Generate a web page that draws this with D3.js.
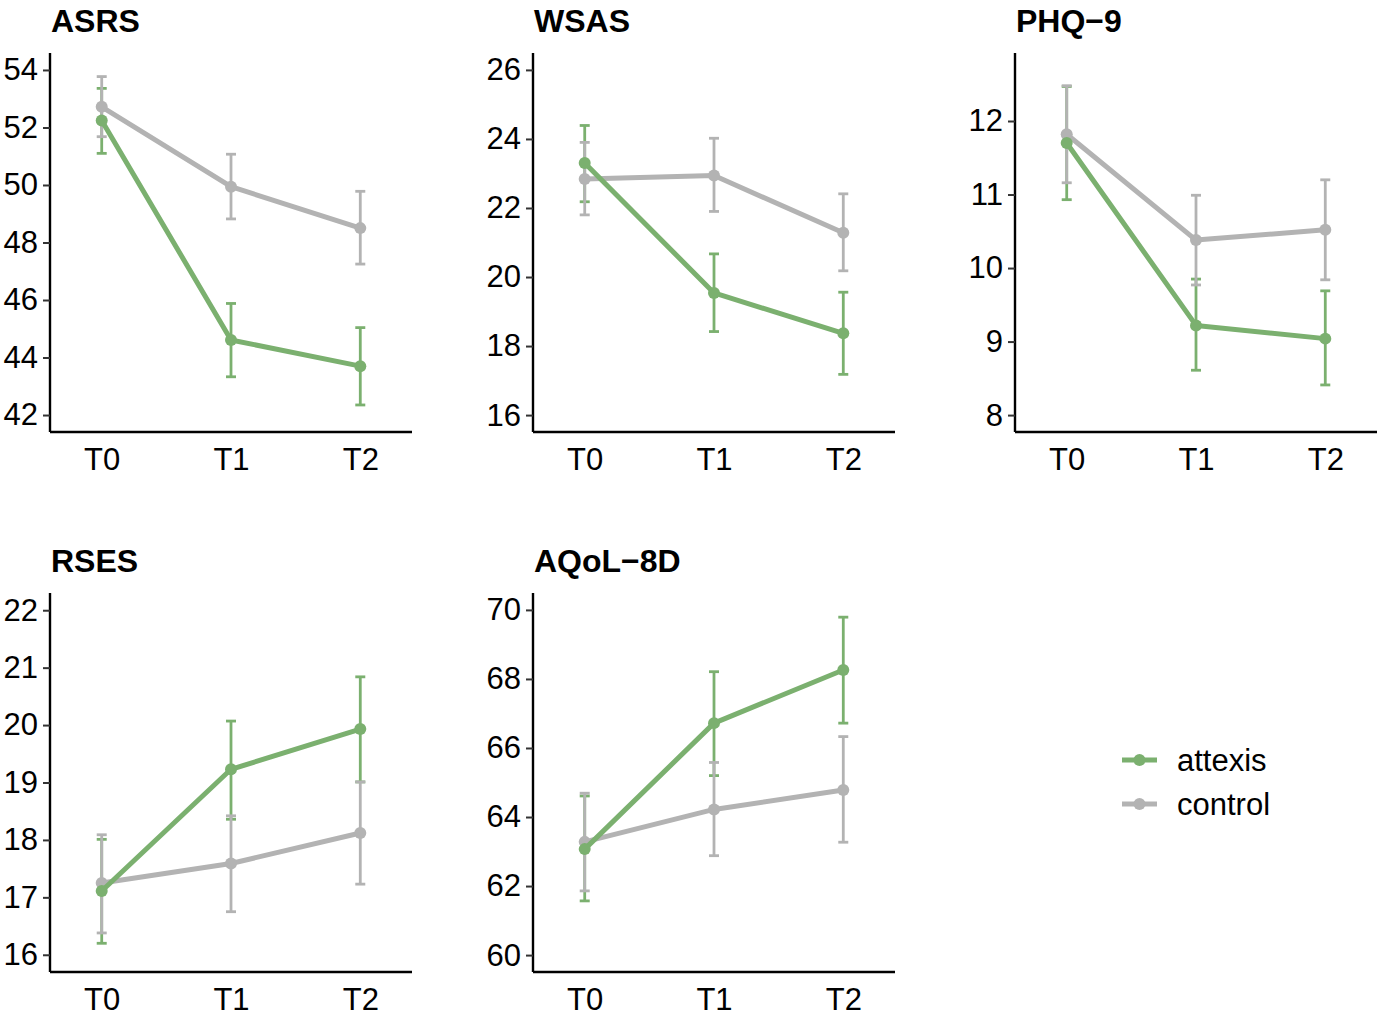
<!DOCTYPE html>
<html lang="en">
<head>
<meta charset="UTF-8">
<title>Outcomes over time</title>
<style>
  body { margin: 0; background: #fff; }
  svg { display: block; font-family: "Liberation Sans", Arial, sans-serif; }
</style>
</head>
<body>
<svg id="chart"></svg>
<script src="https://cdn.jsdelivr.net/npm/d3@7"></script>
<script>
const timepoints = ["T0", "T1", "T2"];
const groups = ["attexis", "control"];
const measures = ["ASRS", "WSAS", "PHQ\u22129", "RSES", "AQoL\u22128D"];

// group means and error bar limits, one row per measure
const attexisMean = [[52.24, 44.61, 43.70], [23.30, 19.54, 18.37], [11.70, 9.22, 9.04], [17.11, 19.23, 19.93], [63.07, 66.72, 68.26]];
const attexisLow  = [[51.10, 43.33, 42.35], [22.18, 18.42, 17.18], [10.93, 8.61, 8.41], [16.20, 18.36, 19.01], [61.57, 65.20, 66.72]];
const attexisHigh = [[53.36, 45.88, 45.04], [24.39, 20.67, 19.56], [12.47, 9.85, 9.69], [18.01, 20.07, 20.84], [64.61, 68.21, 69.79]];
const controlMean = [[52.72, 49.94, 48.50], [22.84, 22.94, 21.28], [11.82, 10.38, 10.52], [17.25, 17.59, 18.12], [63.28, 64.22, 64.78]];
const controlLow  = [[51.68, 48.82, 47.25], [21.80, 21.90, 20.18], [11.16, 9.77, 9.84], [16.38, 16.75, 17.23], [61.86, 62.88, 63.27]];
const controlHigh = [[53.77, 51.07, 49.78], [23.90, 24.02, 22.41], [12.48, 10.99, 11.20], [18.09, 18.42, 19.01], [64.69, 65.58, 66.33]];

const yDomains = [[41.41, 54.59], [15.51, 26.49], [7.77, 12.925], [15.70, 22.30], [59.51, 70.49]];
const yTicks = [[42, 44, 46, 48, 50, 52, 54], [16, 18, 20, 22, 24, 26], [8, 9, 10, 11, 12], [16, 17, 18, 19, 20, 21, 22], [60, 62, 64, 66, 68, 70]];

const colors = { attexis: "#7bb06f", control: "#b3b3b3" };

const W = 1379, H = 1025;
const svg = d3.select("#chart").attr("width", W).attr("height", H);

const colX = [50, 533, 1015], rowY = [53, 593];
const pw = 362, ph = 379;

function seriesFor(g, i) {
  const m = g === "attexis" ? attexisMean : controlMean;
  const lo = g === "attexis" ? attexisLow : controlLow;
  const hi = g === "attexis" ? attexisHigh : controlHigh;
  return timepoints.map((t, j) => ({ t, mean: m[i][j], lo: lo[i][j], hi: hi[i][j] }));
}

measures.forEach((name, i) => {
  const px = colX[i % 3], py = rowY[Math.floor(i / 3)];
  const panel = svg.append("g").attr("transform", `translate(${px},${py})`);

  const x = d3.scalePoint().domain(timepoints).range([0, pw]).padding(0.4);
  const y = d3.scaleLinear().domain(yDomains[i]).range([ph, 0]);

  // title
  panel.append("text")
    .attr("x", 1).attr("y", -21)
    .attr("font-size", 32).attr("font-weight", "bold")
    .text(name);

  // error bars
  groups.forEach(g => {
    const eb = panel.append("g").attr("stroke", colors[g]).attr("stroke-width", 2.8).attr("fill", "none");
    seriesFor(g, i).forEach(d => {
      const cx = x(d.t);
      eb.append("line").attr("x1", cx).attr("x2", cx).attr("y1", y(d.lo)).attr("y2", y(d.hi));
      eb.append("line").attr("x1", cx - 5).attr("x2", cx + 5).attr("y1", y(d.lo)).attr("y2", y(d.lo));
      eb.append("line").attr("x1", cx - 5).attr("x2", cx + 5).attr("y1", y(d.hi)).attr("y2", y(d.hi));
    });
  });

  // lines + points
  const line = d3.line().x(d => x(d.t)).y(d => y(d.mean));
  ["control", "attexis"].forEach(g => {
    const s = seriesFor(g, i);
    panel.append("path").datum(s)
      .attr("d", line).attr("fill", "none")
      .attr("stroke", colors[g]).attr("stroke-width", 5).attr("stroke-linejoin", "round");
    panel.selectAll(null).data(s).enter().append("circle")
      .attr("cx", d => x(d.t)).attr("cy", d => y(d.mean)).attr("r", 6)
      .attr("fill", colors[g]);
  });

  // axes
  const yAxis = panel.append("g")
    .call(d3.axisLeft(y).tickValues(yTicks[i]).tickSize(7).tickPadding(5).tickFormat(d3.format("d")));
  const xAxis = panel.append("g").attr("transform", `translate(0,${ph})`)
    .call(d3.axisBottom(x).tickSize(0).tickPadding(16));
  [yAxis, xAxis].forEach(a => {
    a.select(".domain").attr("stroke", "#000").attr("stroke-width", 2.4);
    a.selectAll(".tick line").attr("stroke", "#333").attr("stroke-width", 2);
    a.selectAll(".tick text").attr("fill", "#000").attr("font-size", 31).attr("font-family", "Liberation Sans, Arial, sans-serif");
  });
  yAxis.select(".domain").attr("d", `M0,0V${ph}`);
  xAxis.select(".domain").attr("d", `M0,0H${pw}`);
});

// legend
const legend = svg.append("g").attr("transform", "translate(1122,760)");
groups.forEach((g, k) => {
  const row = legend.append("g").attr("transform", `translate(0,${k * 44})`);
  row.append("line").attr("x1", 0).attr("x2", 35).attr("stroke", colors[g]).attr("stroke-width", 5);
  row.append("circle").attr("cx", 17.5).attr("r", 6).attr("fill", colors[g]);
  row.append("text").attr("x", 55).attr("dy", "0.35em").attr("font-size", 31).text(g);
});
</script>
</body>
</html>
